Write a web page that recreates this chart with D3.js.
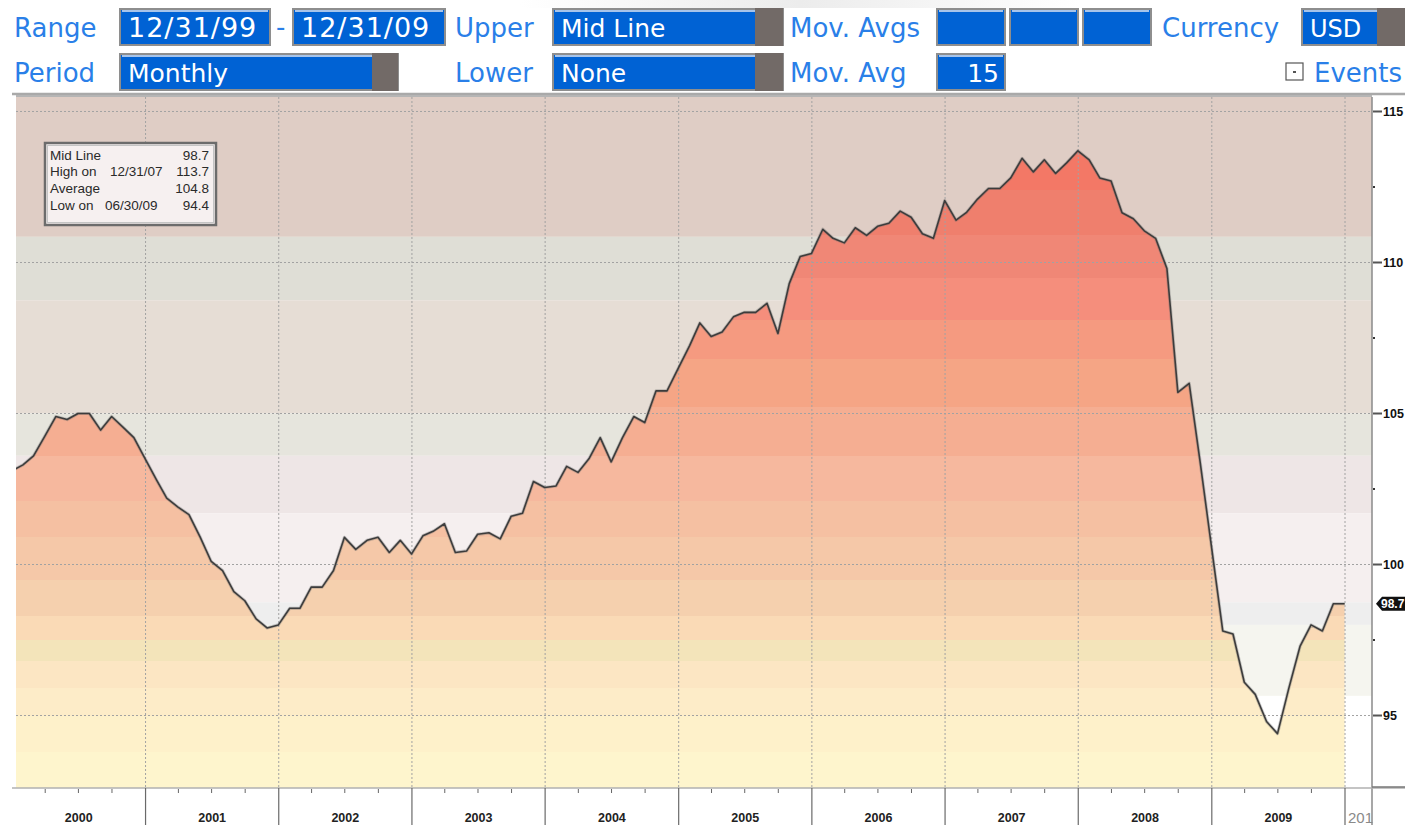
<!DOCTYPE html>
<html>
<head>
<meta charset="utf-8">
<script src="https://cdn.jsdelivr.net/npm/d3@7"></script>
<style>
  body { margin: 0; background: #fff; }
  svg { display: block; }
</style>
</head>
<body>
<div id="chart"></div>
<script>
// monthly values, 12/31/99 .. 12/31/09
const values = [
  103.1, 103.3, 103.6, 104.25, 104.9, 104.8, 105.0, 105.0, 104.45, 104.9,
  104.55, 104.2, 103.5, 102.8, 102.2, 101.9, 101.65, 100.9, 100.1, 99.8,
  99.1, 98.8, 98.2, 97.9, 98.0, 98.55, 98.55, 99.25, 99.25, 99.8,
  100.9, 100.5, 100.8, 100.9, 100.4, 100.8, 100.35, 100.95, 101.1, 101.35,
  100.4, 100.45, 101.0, 101.05, 100.85, 101.6, 101.7, 102.75, 102.55, 102.6,
  103.25, 103.05, 103.5, 104.2, 103.4, 104.2, 104.9, 104.7, 105.75, 105.75,
  106.5, 107.25, 108.0, 107.55, 107.7, 108.2, 108.35, 108.35, 108.65, 107.65,
  109.3, 110.2, 110.3, 111.1, 110.8, 110.65, 111.15, 110.9, 111.2, 111.3,
  111.7, 111.5, 110.95, 110.8, 112.05, 111.4, 111.65, 112.1, 112.45, 112.45,
  112.8, 113.45, 113.0, 113.4, 112.95, 113.3, 113.7, 113.4, 112.8, 112.7,
  111.65, 111.45, 111.05, 110.8, 109.8, 105.7, 106.0, 103.4, 100.6, 97.8,
  97.7, 96.1, 95.7, 94.8, 94.4, 95.9, 97.3, 98.0, 97.8, 98.7,
  98.7
];
const dates = values.map((v, i) => new Date(2000, i, 0)); // month ends

const yearLabels = ["2000", "2001", "2002", "2003", "2004", "2005", "2006", "2007", "2008", "2009"];
const nextYearLabel = "201"; // cut-off label of 2010 at the right edge
const yTicks = [95, 100, 105, 110, 115];
const yMinorTicks = [97.5, 102.5, 107.5, 112.5];

// background bands (value breaks, top to bottom)
const bgBreaks = [110.85, 108.75, 105.0, 103.6, 101.7, 98.75, 98.0, 95.65];
const bgColors = ["#dfcdc5", "#dfded6", "#e6ddd5", "#e6e5dd", "#eee6e6", "#f5efef", "#eeeeee", "#f5f5ef", "#ffffff"];

// stripes of the area fill (value breaks, top to bottom)
const fillBreaks = [112.4, 110.9, 109.5, 108.1, 106.8, 105.2, 103.6, 102.1, 100.9, 99.5, 98.3, 97.5, 96.8, 95.9, 95.0, 93.8];
const fillColors = ["#f37866", "#ef7f6d", "#f08776", "#f58e7c", "#f59a80", "#f5a585", "#f5ae92", "#f6b89e",
  "#f5c0a2", "#f5c8a8", "#f5d0ae", "#fadab6", "#f3e4ba", "#fce6c3", "#fdecc8", "#fef1ca", "#fef5cd"];

const LABEL_COLOR = "#2a7fe8";
const BOX_COLOR = "#0062d4";
const BTN_COLOR = "#726a67";
const LINE_COLOR = "#3c3c3c";
const GRID_COLOR = "#a2a2a2";

const W = 1405, H = 825;
const plot = { left: 16, right: 1372, top: 97, bottom: 788 };

const svg = d3.select("#chart")
  .append("svg")
  .attr("width", W)
  .attr("height", H)
  .style("font-family", "'DejaVu Sans', sans-serif");

svg.append("rect").attr("width", W).attr("height", H).attr("fill", "#fff");

// ---------- top controls ----------
const faint = svg.append("defs").append("linearGradient")
  .attr("id", "faint").attr("x1", 0).attr("x2", 1).attr("y1", 0).attr("y2", 0);
faint.append("stop").attr("offset", 0).attr("stop-color", "#fff");
faint.append("stop").attr("offset", 0.5).attr("stop-color", "#ececec");
faint.append("stop").attr("offset", 1).attr("stop-color", "#fff");
svg.append("rect").attr("x", 520).attr("y", 0).attr("width", 560).attr("height", 8).attr("fill", "url(#faint)");

const labels = [
  { x: 14, y: 37, t: "Range" },
  { x: 276, y: 36, t: "-" },
  { x: 455, y: 37, t: "Upper" },
  { x: 790, y: 37, t: "Mov. Avgs" },
  { x: 1162, y: 37, t: "Currency" },
  { x: 14, y: 82, t: "Period" },
  { x: 455, y: 82, t: "Lower" },
  { x: 790, y: 82, t: "Mov. Avg" },
  { x: 1314, y: 82, t: "Events" }
];
svg.selectAll(".lbl")
  .data(labels)
  .enter()
  .append("text")
  .attr("class", "lbl")
  .attr("x", d => d.x)
  .attr("y", d => d.y)
  .attr("font-size", 26)
  .attr("fill", LABEL_COLOR)
  .text(d => d.t);

const boxes = [
  { x: 120, y: 9, w: 150, t: "12/31/99", fs: 27, ls: 1 },
  { x: 293, y: 9, w: 152, t: "12/31/09", fs: 27, ls: 1 },
  { x: 553, y: 9, w: 230, btn: 28, t: "Mid Line", fs: 25 },
  { x: 937, y: 9, w: 68, t: "" },
  { x: 1010, y: 9, w: 68, t: "" },
  { x: 1083, y: 9, w: 68, t: "" },
  { x: 1302, y: 9, w: 103, btn: 28, t: "USD", fs: 24 },
  { x: 120, y: 54, w: 278, btn: 26, t: "Monthly", fs: 25 },
  { x: 553, y: 54, w: 230, btn: 28, t: "None", fs: 25 },
  { x: 937, y: 54, w: 68, t: "15", fs: 25, right: true }
];
const bx = svg.selectAll(".box").data(boxes).enter().append("g").attr("class", "box");
bx.append("rect")
  .attr("x", d => d.x).attr("y", d => d.y)
  .attr("width", d => d.w).attr("height", 36)
  .attr("fill", BOX_COLOR)
  .attr("stroke", "#8e8e8e").attr("stroke-width", 2);
bx.append("line")
  .attr("x1", d => d.x + 2).attr("x2", d => d.x + d.w - 2)
  .attr("y1", d => d.y + 2).attr("y2", d => d.y + 2)
  .attr("stroke", "#dfe6f2").attr("stroke-width", 1.5);
bx.filter(d => d.btn)
  .append("rect")
  .attr("x", d => d.x + d.w - d.btn).attr("y", d => d.y - 1)
  .attr("width", d => d.btn).attr("height", 38)
  .attr("fill", BTN_COLOR);
bx.append("text")
  .attr("x", d => d.right ? d.x + d.w - 6 : d.x + 8)
  .attr("y", d => d.y + 28)
  .attr("text-anchor", d => d.right ? "end" : "start")
  .attr("font-size", d => d.fs || 25)
  .attr("letter-spacing", d => d.ls || 0)
  .attr("fill", "#fff")
  .text(d => d.t);

// events checkbox
svg.append("rect").attr("x", 1286).attr("y", 63).attr("width", 17).attr("height", 17)
  .attr("fill", "#fff").attr("stroke", "#555").attr("stroke-width", 1.2);
svg.append("rect").attr("x", 1293).attr("y", 71).attr("width", 3).attr("height", 2).attr("fill", "#555");

// separator
svg.append("line").attr("x1", 12).attr("x2", W).attr("y1", 94).attr("y2", 94)
  .attr("stroke", "#a9a9a9").attr("stroke-width", 2.5);

// ---------- scales ----------
const x = d3.scaleTime()
  .domain([new Date(2000, 0, 1), new Date(2010, 0, 1)])
  .range([12, 1345]);
const y = d3.scaleLinear()
  .domain([92.6, 115.48])
  .range([plot.bottom, plot.top]);

const defs = svg.append("defs");
defs.append("clipPath").attr("id", "plotClip")
  .append("rect")
  .attr("x", plot.left).attr("y", plot.top)
  .attr("width", plot.right - plot.left).attr("height", plot.bottom - plot.top);

// stepped gradient for the area
const grad = defs.append("linearGradient")
  .attr("id", "fillGrad")
  .attr("gradientUnits", "userSpaceOnUse")
  .attr("x1", 0).attr("x2", 0)
  .attr("y1", plot.top).attr("y2", plot.bottom);
const [yLo, yHi] = y.domain();
const span = plot.bottom - plot.top;
fillColors.forEach((c, i) => {
  const vTop = i === 0 ? yHi : fillBreaks[i - 1];
  const vBot = i === fillColors.length - 1 ? yLo : fillBreaks[i];
  grad.append("stop").attr("offset", (y(vTop) - plot.top) / span).attr("stop-color", c);
  grad.append("stop").attr("offset", (y(vBot) - plot.top) / span).attr("stop-color", c);
});

const g = svg.append("g").attr("clip-path", "url(#plotClip)");

// background bands
g.selectAll(".band")
  .data(bgColors)
  .enter()
  .append("rect")
  .attr("class", "band")
  .attr("x", plot.left)
  .attr("width", plot.right - plot.left)
  .attr("y", (c, i) => y(i === 0 ? yHi : bgBreaks[i - 1]))
  .attr("height", (c, i) => y(i === bgColors.length - 1 ? yLo : bgBreaks[i]) - y(i === 0 ? yHi : bgBreaks[i - 1]))
  .attr("fill", c => c);

// area under line
const area = d3.area()
  .x((v, i) => x(dates[i]))
  .y0(plot.bottom)
  .y1(v => y(v));
g.append("path")
  .datum(values)
  .attr("d", area)
  .attr("fill", "url(#fillGrad)");

// grid
g.selectAll(".hgrid")
  .data(yTicks)
  .enter()
  .append("line")
  .attr("class", "hgrid")
  .attr("x1", plot.left).attr("x2", plot.right)
  .attr("y1", d => y(d)).attr("y2", d => y(d))
  .attr("stroke", GRID_COLOR).attr("stroke-width", 1)
  .attr("stroke-dasharray", "2,2");

const yearBounds = yearLabels.map(s => new Date(+s + 1, 0, 1));
g.selectAll(".vgrid")
  .data(yearBounds)
  .enter()
  .append("line")
  .attr("class", "vgrid")
  .attr("x1", d => x(d)).attr("x2", d => x(d))
  .attr("y1", plot.top).attr("y2", plot.bottom)
  .attr("stroke", GRID_COLOR).attr("stroke-width", 1)
  .attr("stroke-dasharray", "2,2");

// the line
const line = d3.line()
  .x((v, i) => x(dates[i]))
  .y(v => y(v));
g.append("path")
  .datum(values)
  .attr("d", line)
  .attr("fill", "none")
  .attr("stroke", "#6a6a6a")
  .attr("stroke-opacity", 0.35)
  .attr("stroke-width", 3.2)
  .attr("stroke-linejoin", "round");
g.append("path")
  .datum(values)
  .attr("d", line)
  .attr("fill", "none")
  .attr("stroke", LINE_COLOR)
  .attr("stroke-width", 1.6)
  .attr("stroke-linejoin", "round");

// plot frame
svg.append("line").attr("x1", plot.left).attr("x2", plot.right).attr("y1", plot.top - 1).attr("y2", plot.top - 1)
  .attr("stroke", "#b5b5b5").attr("stroke-width", 2);
svg.append("line").attr("x1", plot.right).attr("x2", plot.right).attr("y1", plot.top).attr("y2", H)
  .attr("stroke", "#8a8a8a").attr("stroke-width", 1.5);

// ---------- legend box ----------
const last = values[values.length - 1];
const iMax = d3.maxIndex(values), iMin = d3.minIndex(values);
const fmtDate = d3.timeFormat("%m/%d/%y");
const fmtVal = d3.format(".1f");
const legendRows = [
  ["Mid Line", "", fmtVal(last)],
  ["High on", fmtDate(dates[iMax]), fmtVal(values[iMax])],
  ["Average", "", fmtVal(d3.mean(values))],
  ["Low on", fmtDate(dates[iMin]), fmtVal(values[iMin])]
];
const lg = svg.append("g").attr("font-family", "'Liberation Sans', Arial, sans-serif").attr("font-size", 13.5).attr("fill", "#2a2a2a");
lg.append("rect").attr("x", 45).attr("y", 143).attr("width", 171).attr("height", 82)
  .attr("fill", "#f6f0f0").attr("stroke", "#6c6c6c").attr("stroke-width", 2.5);
lg.append("rect").attr("x", 47.5).attr("y", 145.5).attr("width", 166).attr("height", 77)
  .attr("fill", "none").attr("stroke", "#c4c4c4").attr("stroke-width", 1);
legendRows.forEach((r, i) => {
  const yy = 159.5 + i * 16.8;
  lg.append("text").attr("x", 50).attr("y", yy).text(r[0]);
  if (r[1]) lg.append("text").attr("x", i === 1 ? 110 : 105).attr("y", yy).text(r[1]);
  lg.append("text").attr("x", 209).attr("y", yy).attr("text-anchor", "end").text(r[2]);
});

// ---------- right axis ----------
const ax = svg.append("g").attr("font-family", "'Liberation Sans', Arial, sans-serif");
ax.selectAll(".tk")
  .data(yTicks)
  .enter()
  .append("line")
  .attr("x1", plot.right + 1).attr("x2", plot.right + 10)
  .attr("y1", d => y(d)).attr("y2", d => y(d))
  .attr("stroke", "#555").attr("stroke-width", 2);
ax.selectAll(".mtk")
  .data(yMinorTicks)
  .enter()
  .append("line")
  .attr("x1", plot.right + 1).attr("x2", plot.right + 3)
  .attr("y1", d => y(d)).attr("y2", d => y(d))
  .attr("stroke", "#333").attr("stroke-width", 2);
ax.selectAll(".tl")
  .data(yTicks)
  .enter()
  .append("text")
  .attr("x", 1383)
  .attr("y", d => y(d) + 4.5)
  .attr("font-size", 12.5)
  .attr("font-weight", "bold")
  .attr("fill", "#111")
  .text(d => d);

// last value tag
const ty = y(last);
ax.append("path")
  .attr("d", `M${plot.right + 4},${ty} L${plot.right + 10},${ty - 7} L${W + 5},${ty - 7} L${W + 5},${ty + 7} L${plot.right + 10},${ty + 7} Z`)
  .attr("fill", "#111");
ax.append("text")
  .attr("x", 1381).attr("y", ty + 4.5)
  .attr("font-size", 12).attr("font-weight", "bold")
  .attr("fill", "#fff")
  .text(fmtVal(last));

// ---------- bottom axis ----------
const bt = svg.append("g").attr("font-family", "'Liberation Sans', Arial, sans-serif");
bt.append("line").attr("x1", 12).attr("x2", W).attr("y1", plot.bottom).attr("y2", plot.bottom)
  .attr("stroke", "#b0b0b0").attr("stroke-width", 1.5);
bt.append("line").attr("x1", plot.right).attr("x2", W).attr("y1", plot.bottom - 1).attr("y2", plot.bottom - 1)
  .attr("stroke", "#777").attr("stroke-width", 1.5);

const quarters = d3.timeMonth.every(3).range(new Date(2000, 0, 1), new Date(2010, 0, 2))
  .filter(d => d.getMonth() !== 0);
bt.selectAll(".qt")
  .data(quarters)
  .enter()
  .append("line")
  .attr("x1", d => x(d)).attr("x2", d => x(d))
  .attr("y1", plot.bottom + 1).attr("y2", plot.bottom + 5)
  .attr("stroke", "#666").attr("stroke-width", 1);

bt.selectAll(".ysep")
  .data(yearBounds)
  .enter()
  .append("line")
  .attr("x1", d => x(d)).attr("x2", d => x(d))
  .attr("y1", plot.bottom).attr("y2", H)
  .attr("stroke", "#6a6a6a").attr("stroke-width", 1.2);

bt.selectAll(".yl")
  .data(yearLabels)
  .enter()
  .append("text")
  .attr("x", d => (x(new Date(+d, 0, 1)) + x(new Date(+d + 1, 0, 1))) / 2)
  .attr("y", 822)
  .attr("text-anchor", "middle")
  .attr("font-size", 12.5)
  .attr("font-weight", "bold")
  .attr("fill", "#222")
  .text(d => d);

bt.append("text")
  .attr("x", x(new Date(2010, 0, 1)) + 3)
  .attr("y", 823)
  .attr("font-size", 15)
  .attr("fill", "#8a8a8a")
  .text(nextYearLabel);
</script>
</body>
</html>
